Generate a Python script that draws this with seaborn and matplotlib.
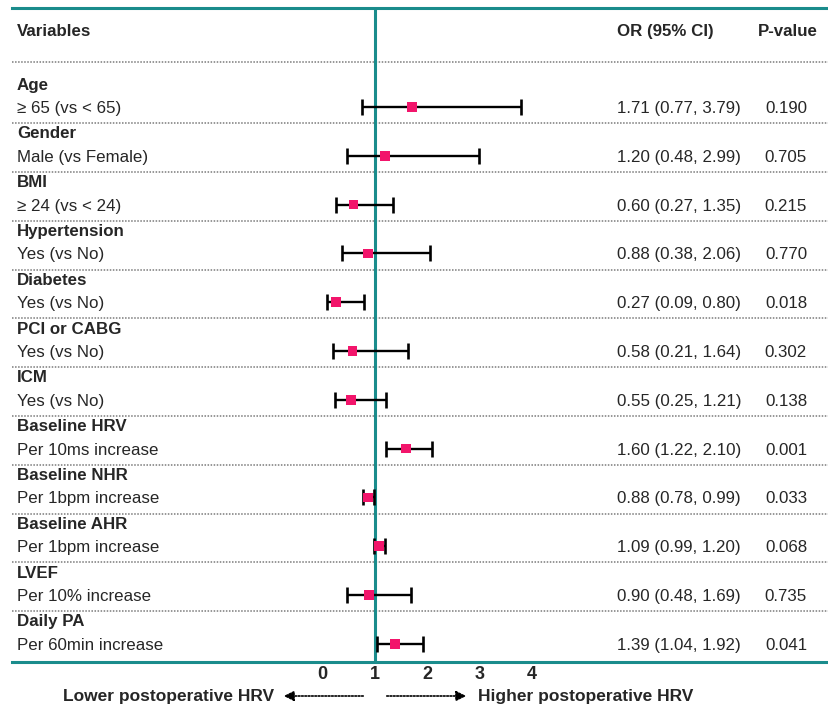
import numpy as np
import pandas as pd
import matplotlib
matplotlib.use("Agg")
import matplotlib.pyplot as plt
import seaborn as sns

# ---- data ----
groups = ["Age", "Gender", "BMI", "Hypertension", "Diabetes", "PCI or CABG", "ICM",
          "Baseline HRV", "Baseline NHR", "Baseline AHR", "LVEF", "Daily PA"]
levels = ["\u2265 65 (vs < 65)", "Male (vs Female)", "\u2265 24 (vs < 24)", "Yes (vs No)",
          "Yes (vs No)", "Yes (vs No)", "Yes (vs No)", "Per 10ms increase",
          "Per 1bpm increase", "Per 1bpm increase", "Per 10% increase", "Per 60min increase"]
odds = [1.71, 1.20, 0.60, 0.88, 0.27, 0.58, 0.55, 1.60, 0.88, 1.09, 0.90, 1.39]
ci_low = [0.77, 0.48, 0.27, 0.38, 0.09, 0.21, 0.25, 1.22, 0.78, 0.99, 0.48, 1.04]
ci_high = [3.79, 2.99, 1.35, 2.06, 0.80, 1.64, 1.21, 2.10, 0.99, 1.20, 1.69, 1.92]
p_values = ["0.190", "0.705", "0.215", "0.770", "0.018", "0.302", "0.138",
            "0.001", "0.033", "0.068", "0.735", "0.041"]
x_ticks = [0, 1, 2, 3, 4]

df = pd.DataFrame({"group": groups, "level": levels, "OR": odds,
                   "lo": ci_low, "hi": ci_high, "p": p_values})
df["row"] = np.arange(len(df))

TEAL = "#1a8c8c"
PINK = "#f2156b"

sns.set_theme(style="white")
plt.rcParams['font.family'] = ['Liberation Sans', 'DejaVu Sans']

W, H = 829, 706
fig = plt.figure(figsize=(W / 100, H / 100), dpi=100)
# axes spans from the top teal rule to the bottom teal rule
ax = fig.add_axes([12 / W, (H - 662) / H, 1 - 12 / W, (662 - 8) / H])

px_per_unit = 52.5
x0_px = 322
ax.set_xlim((12 - x0_px) / px_per_unit, (W - x0_px) / px_per_unit)
row_px, row0_px = 48.8, 107
ax.set_ylim((662 - row0_px) / row_px, (8 - row0_px) / row_px)


def fx(px):
    # pixel column -> axes fraction
    return (px - 12) / (W - 12)


yt = ax.get_yaxis_transform()

# spines
for s in ["left", "right"]:
    ax.spines[s].set_visible(False)
for s in ["top", "bottom"]:
    ax.spines[s].set_color(TEAL)
    ax.spines[s].set_linewidth(2.2)
ax.grid(False)

# reference line at OR = 1
ax.axvline(1, color=TEAL, lw=2.2, zorder=1)

# dotted separators
seps = [-0.92] + list(df["row"][:-1] + 0.33)
for s in seps:
    ax.axhline(s, color="#7a7a7a", lw=1.1, ls=(0, (1, 1)), zorder=0)

# CI whiskers and squares
ax.errorbar(df["OR"], df["row"], xerr=[df["OR"] - df["lo"], df["hi"] - df["OR"]],
            fmt="none", ecolor="black", elinewidth=1.7, capsize=5.5, capthick=1.9, zorder=2)
sns.scatterplot(data=df, x="OR", y="row", marker="s", s=48, color=PINK,
                edgecolor="none", ax=ax, zorder=3, legend=False)

# headers
fs = 12.2
va = "center_baseline"
ax.text(fx(17), -1.58, "Variables", transform=yt, fontsize=fs, fontweight="bold", va=va)
ax.text(fx(617), -1.58, "OR (95% CI)", transform=yt, fontsize=fs, fontweight="bold", va=va)
ax.text(fx(788), -1.58, "P-value", transform=yt, fontsize=fs, fontweight="bold",
        va=va, ha="center")

for _, r in df.iterrows():
    ax.text(fx(17), r["row"] - 0.48, r["group"], transform=yt, fontsize=fs,
            fontweight="bold", va=va)
    ax.text(fx(17), r["row"], r["level"], transform=yt, fontsize=fs, va=va)
    ax.text(fx(617), r["row"], f"{r['OR']:.2f} ({r['lo']:.2f}, {r['hi']:.2f})",
            transform=yt, fontsize=fs, va=va)
    ax.text(fx(786), r["row"], r["p"], transform=yt, fontsize=fs, va=va, ha="center")

# x ticks
ax.set_xticks(x_ticks)
ax.set_xticklabels([str(t) for t in x_ticks], fontdict={"fontsize": 13, "fontweight": "bold"})
ax.tick_params(axis="x", length=0, pad=3)
ax.set_yticks([])
ax.set_xlabel("")
ax.set_ylabel("")

# bottom direction arrows
arrow_y = (H - 696) / H
ax.annotate("", xy=(281 / W, arrow_y), xytext=(366 / W, arrow_y), xycoords="figure fraction",
            arrowprops=dict(arrowstyle="-|>", ls=(0, (1, 1)), lw=1.2, color="black",
                            mutation_scale=15))
ax.annotate("", xy=(469 / W, arrow_y), xytext=(384 / W, arrow_y), xycoords="figure fraction",
            arrowprops=dict(arrowstyle="-|>", ls=(0, (1, 1)), lw=1.2, color="black",
                            mutation_scale=15))
fig.text(274 / W, arrow_y, "Lower postoperative HRV", ha="right", va="center",
         fontsize=12.5, fontweight="bold")
fig.text(478 / W, arrow_y, "Higher postoperative HRV", ha="left", va="center",
         fontsize=12.5, fontweight="bold")

fig.savefig("out.png", dpi=100)
